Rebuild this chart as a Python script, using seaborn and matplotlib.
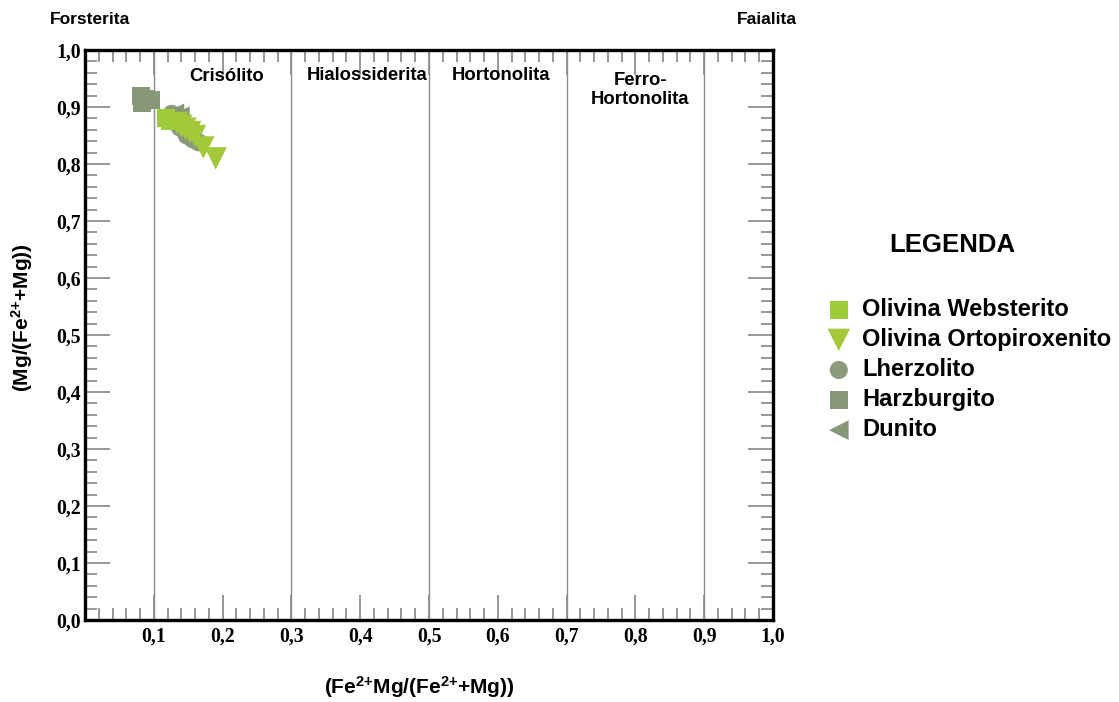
import matplotlib
matplotlib.use("Agg")
import matplotlib.pyplot as plt
import seaborn as sns
import numpy as np
import pandas as pd
from matplotlib.ticker import MultipleLocator, FuncFormatter
from matplotlib.font_manager import FontProperties

# ---------------- data ----------------
websterito_x = [0.118, 0.124]
websterito_y = [0.881, 0.875]

ortopiroxenito_x = [0.134, 0.140, 0.146, 0.153, 0.160, 0.172, 0.190]
ortopiroxenito_y = [0.872, 0.867, 0.862, 0.856, 0.849, 0.829, 0.810]

lherzolito_x = [0.126, 0.138, 0.148, 0.157, 0.165]
lherzolito_y = [0.888, 0.864, 0.850, 0.843, 0.838]

harzburgito_x = [0.081, 0.083, 0.089, 0.096]
harzburgito_y = [0.919, 0.908, 0.914, 0.912]

dunito_x = [0.130, 0.138]
dunito_y = [0.889, 0.884]

groups = ["Olivina Websterito", "Olivina Ortopiroxenito", "Lherzolito", "Harzburgito", "Dunito"]
colors = {"Olivina Websterito": "#9dcb3a", "Olivina Ortopiroxenito": "#a3c93a",
          "Lherzolito": "#8b9a7b", "Harzburgito": "#879879", "Dunito": "#879879"}
markers = {"Olivina Websterito": "s", "Olivina Ortopiroxenito": "v",
           "Lherzolito": "o", "Harzburgito": "s", "Dunito": "<"}
sizes = {"Olivina Websterito": 175, "Olivina Ortopiroxenito": 260,
         "Lherzolito": 170, "Harzburgito": 175, "Dunito": 200}
data = {"Olivina Websterito": (websterito_x, websterito_y),
        "Olivina Ortopiroxenito": (ortopiroxenito_x, ortopiroxenito_y),
        "Lherzolito": (lherzolito_x, lherzolito_y),
        "Harzburgito": (harzburgito_x, harzburgito_y),
        "Dunito": (dunito_x, dunito_y)}
draw_order = ["Harzburgito", "Lherzolito", "Dunito", "Olivina Websterito", "Olivina Ortopiroxenito"]

field_bounds = [0.1, 0.3, 0.5, 0.7, 0.9]
field_names = ["Crisólito", "Hialossiderita", "Hortonolita", "Ferro-\nHortonolita"]
field_label_x = [0.206, 0.41, 0.605, 0.807]
field_label_y = [0.953, 0.956, 0.956, 0.93]

# ---------------- style ----------------
sns.set_style("white")
plt.rcParams["font.family"] = ["Liberation Sans", "DejaVu Sans"]
plt.rcParams["text.color"] = "black"
plt.rcParams["axes.labelcolor"] = "black"
plt.rcParams["mathtext.fontset"] = "custom"
plt.rcParams["mathtext.rm"] = "Liberation Sans:bold"
plt.rcParams["mathtext.it"] = "Liberation Sans:bold"
plt.rcParams["mathtext.bf"] = "Liberation Sans:bold"

W, H = 1119, 702
fig = plt.figure(figsize=(W / 100, H / 100), dpi=100)
ax = fig.add_axes([85 / W, 1 - 620 / H, 688 / W, 570 / H])

handles = {}
for g in draw_order:
    gx, gy = data[g]
    df = pd.DataFrame({"x": gx, "y": gy})
    sns.scatterplot(data=df, x="x", y="y", marker=markers[g], s=sizes[g],
                    color=colors[g], edgecolor="none", linewidth=0, ax=ax, zorder=3)
    handles[g] = ax.collections[-1]

ax.set_xlim(0, 1)
ax.set_ylim(0, 1)

# field boundaries
for b in field_bounds:
    ax.axvline(b, color="#8c8c8c", lw=1.0, zorder=1)

for name, lx, ly in zip(field_names, field_label_x, field_label_y):
    ax.text(lx, ly, name, ha="center", va="center", fontsize=13.3,
            fontweight="bold", family="Liberation Sans", linespacing=1.1, color="black")

# ticks
ax.xaxis.set_major_locator(MultipleLocator(0.1))
ax.xaxis.set_minor_locator(MultipleLocator(0.02))
ax.yaxis.set_major_locator(MultipleLocator(0.1))
ax.yaxis.set_minor_locator(MultipleLocator(0.02))
ax.xaxis.set_major_formatter(FuncFormatter(lambda v, p: "" if abs(v) < 1e-9 else f"{v:.1f}".replace(".", ",")))
ax.yaxis.set_major_formatter(FuncFormatter(lambda v, p: f"{v:.1f}".replace(".", ",")))
ax.tick_params(which="both", direction="in", top=True, right=True, bottom=True, left=True,
               color="#8f8f8f", width=1.3, labelcolor="black")
ax.tick_params(which="major", length=18)
ax.tick_params(which="minor", length=8.5)
ax.tick_params(axis="x", which="major", pad=5)
ax.tick_params(axis="y", which="major", pad=3)
for lab in ax.get_xticklabels() + ax.get_yticklabels():
    lab.set_fontfamily("Liberation Serif")
    lab.set_fontweight("bold")
    lab.set_fontsize(14.2)

for sp in ax.spines.values():
    sp.set_color("black")
    sp.set_linewidth(2.4)
    sp.set_visible(True)

ax.set_xlabel("")
ax.set_ylabel("")
fig.text(419 / W, 1 - 687 / H, r"(Fe$^{2{+}}$Mg/(Fe$^{2{+}}$+Mg))", ha="center", va="center",
         fontsize=15, fontweight="bold")
fig.text(22 / W, 1 - 318 / H, r"(Mg/(Fe$^{2{+}}$+Mg))", ha="center", va="center",
         fontsize=15, fontweight="bold", rotation=90)

fig.text(50 / W, 1 - 20 / H, "Forsterita", ha="left", va="center", fontsize=12.5, fontweight="bold")
fig.text(737 / W, 1 - 20 / H, "Faialita", ha="left", va="center", fontsize=12.5, fontweight="bold")

fig.text(952 / W, 1 - 245 / H, "LEGENDA", ha="center", va="center", fontsize=18.5, fontweight="bold")

leg = fig.legend([handles[g] for g in groups], groups, loc="upper left",
                 bbox_to_anchor=(827 / W, 1 - 298 / H), frameon=False,
                 prop=FontProperties(family="Liberation Sans", weight="bold", size=17),
                 handletextpad=0.5, labelspacing=0.3, handlelength=1.0,
                 borderpad=0, borderaxespad=0)
for t in leg.get_texts():
    t.set_color("black")

fig.savefig("out.png", dpi=100)
